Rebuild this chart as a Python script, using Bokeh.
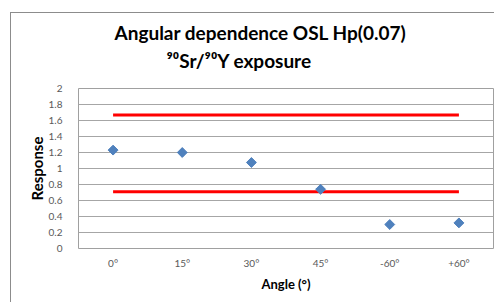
import math
from bokeh.plotting import figure
from bokeh.models import Whisker, ColumnDataSource, Title
from bokeh.embed import file_html
from bokeh.resources import INLINE

angles = ["0°", "15°", "30°", "45°", "-60°", "+60°"]
response = [1.23, 1.20, 1.075, 0.74, 0.30, 0.32]
response_err = [0.02, 0.02, 0.02, 0.02, 0.01, 0.01]
upper_limit = 1.67
lower_limit = 0.71
y_ticks = [0, 0.2, 0.4, 0.6, 0.8, 1, 1.2, 1.4, 1.6, 1.8, 2]
title_line1 = "Angular dependence OSL Hp(0.07)"
title_line2 = "⁹⁰Sr/⁹⁰Y exposure"

FONT = "Lato"

p = figure(x_range=angles, y_range=(0, 2), width=494, height=302,
           output_backend="svg", toolbar_location=None,
           min_border_left=78, min_border_right=1, min_border_top=88, min_border_bottom=54)
p.x_range.range_padding = 0
p.border_fill_color = None
p.styles = {
    "background-color": "#ffffff",
    "background-image": "linear-gradient(#8c8c8c,#8c8c8c), linear-gradient(#8c8c8c,#8c8c8c)",
    "background-size": "1px 100%, 100% 1px",
    "background-position": "10px 12px, 10px 12px",
    "background-repeat": "no-repeat",
}

p.outline_line_color = "#a0a0a0"
p.outline_line_width = 1
p.xgrid.grid_line_color = None
p.ygrid.grid_line_color = "#a6a6a6"
p.ygrid.grid_line_width = 1

p.yaxis.ticker = y_ticks
p.yaxis.major_label_overrides = {0: "0", 1: "1", 2: "2"}
for ax in (p.xaxis, p.yaxis):
    ax.axis_line_color = None
    ax.major_tick_line_color = None
    ax.minor_tick_line_color = None
    ax.major_label_text_font = FONT
    ax.major_label_text_font_size = "10px"
    ax.major_label_text_color = "#595959"
    ax.axis_label_text_font = FONT
    ax.axis_label_text_font_style = "bold"
    ax.axis_label_text_color = "#000000"
p.xaxis.major_label_standoff = 2
p.yaxis.major_label_standoff = 10
p.yaxis.axis_label = "Response"
p.yaxis.axis_label_text_font_size = "15px"
p.yaxis.axis_label_standoff = 0
p.xaxis.axis_label = "Angle (°)"
p.xaxis.axis_label_text_font_size = "13px"
p.xaxis.axis_label_standoff = 4

p.line([angles[0], angles[-1]], [upper_limit, upper_limit], line_color="#ff0000", line_width=3)
p.line([angles[0], angles[-1]], [lower_limit, lower_limit], line_color="#ff0000", line_width=3)

src = ColumnDataSource(dict(x=angles, y=response,
                            lo=[r - e for r, e in zip(response, response_err)],
                            hi=[r + e for r, e in zip(response, response_err)]))
w = Whisker(source=src, base="x", lower="lo", upper="hi", line_color="#000000",
            line_width=1)
w.upper_head.size = 4
w.lower_head.size = 4
w.upper_head.line_color = "#000000"
w.lower_head.line_color = "#000000"
p.add_layout(w)
p.scatter("x", "y", source=src, marker="square", size=7, angle=math.pi / 4,
          fill_color="#4f81bd", line_color="#4f81bd")

t2 = Title(text=title_line2, align="left", offset=88, text_font=FONT, text_font_style="bold",
           text_font_size="19px", text_color="#000000", standoff=33)
t1 = Title(text=title_line1, align="left", offset=36, text_font=FONT, text_font_style="bold",
           text_font_size="19px", text_color="#000000", standoff=-26)
p.add_layout(t2, "above")
p.add_layout(t1, "above")

open("out.html", "w").write(file_html(p, INLINE))
